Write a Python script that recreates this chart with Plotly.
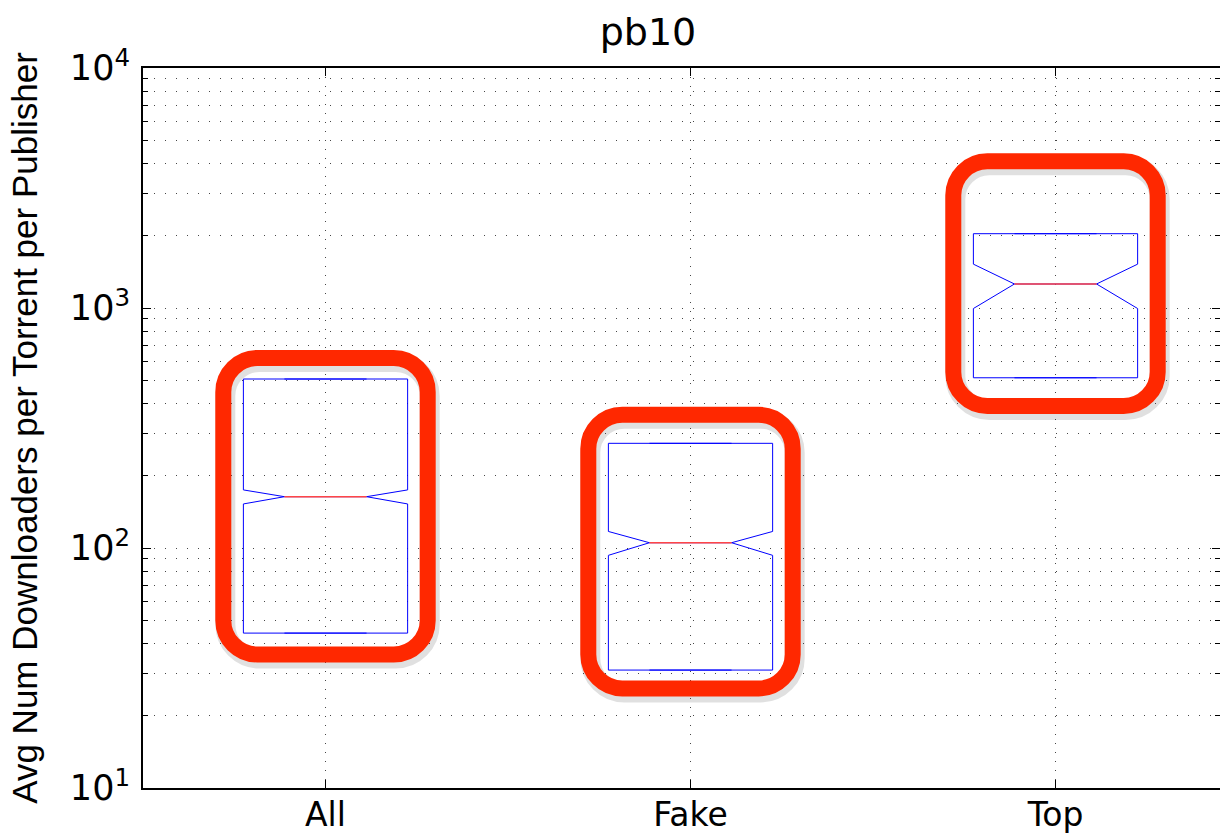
import math
import plotly.graph_objects as go

# ---------------- data ----------------
categories = ["All", "Fake", "Top"]
positions = [1, 2, 3]
q1 = [44.2, 31.0, 512]
median = [163.6, 105.2, 1259]
q3 = [506, 273, 2040]
notchspan = [11, 12, 264]
lower_whisker = [44.2, 31.0, 512]
upper_whisker = [506, 273, 2040]
# highlight (hand-drawn red frames) extents, data units
hl_low = [36, 26, 391]
hl_high = [619, 359, 4085]

ytickvals = [10, 100, 1000, 10000]
yticktext = ["10<sup>1</sup>", "10<sup>2</sup>", "10<sup>3</sup>", "10<sup>4</sup>"]
yminor = [m * 10 ** e for e in range(1, 4) for m in range(2, 10)]

# ---------------- geometry / style ----------------
W, H = 1220, 836
ML, MR, MT, MB = 143, 0, 68, 48
PW, PH = W - ML - MR, H - MT - MB
XUNIT = 365.0
XR = [0.5, 0.5 + PW / XUNIT]
YR = [1, 4]
BOXW = 0.45
NOTCHW = 0.25
HL_HALF = 0.28

fig = go.Figure()

fig.add_trace(go.Box(
    x=positions, q1=q1, median=median, q3=q3,
    lowerfence=lower_whisker, upperfence=upper_whisker,
    notchspan=notchspan, notched=True, notchwidth=NOTCHW,
    width=BOXW, whiskerwidth=0.5, boxpoints=False,
    line=dict(color="rgb(0,0,255)", width=1),
    fillcolor="rgba(255,255,255,0)",
    showlegend=False, hoverinfo="skip",
))

# red median lines
mx, my = [], []
half_in = BOXW / 2 * (1 - 2 * NOTCHW)
for p, m in zip(positions, median):
    mx += [p - half_in, p + half_in, None]
    my += [m, m, None]
fig.add_trace(go.Scatter(x=mx, y=my, mode="lines",
                         line=dict(color="rgb(255,70,70)", width=1.6),
                         showlegend=False, hoverinfo="skip"))


def to_paper(x, y):
    return (x - XR[0]) / (XR[1] - XR[0]), (math.log10(y) - YR[0]) / (YR[1] - YR[0])


def rounded_path(x0, y0, x1, y1, rpx, dx=0.0, dy=0.0):
    rx, ry = rpx / PW, rpx / PH
    ox, oy = dx / PW, dy / PH
    x0 += ox; x1 += ox; y0 += oy; y1 += oy
    k = 0.45
    p = []
    p.append(f"M {x0 + rx},{y1}")
    p.append(f"L {x1 - rx},{y1}")
    p.append(f"C {x1 - rx * k},{y1} {x1},{y1 - ry * k} {x1},{y1 - ry}")
    p.append(f"L {x1},{y0 + ry}")
    p.append(f"C {x1},{y0 + ry * k} {x1 - rx * k},{y0} {x1 - rx},{y0}")
    p.append(f"L {x0 + rx},{y0}")
    p.append(f"C {x0 + rx * k},{y0} {x0},{y0 + ry * k} {x0},{y0 + ry}")
    p.append(f"L {x0},{y1 - ry}")
    p.append(f"C {x0},{y1 - ry * k} {x0 + rx * k},{y1} {x0 + rx},{y1}")
    p.append("Z")
    return " ".join(p)


shapes = []
for p, lo, hi in zip(positions, hl_low, hl_high):
    x0, y0 = to_paper(p - HL_HALF, lo)
    x1, y1 = to_paper(p + HL_HALF, hi)
    shapes.append(dict(type="path", xref="paper", yref="paper",
                       path=rounded_path(x0, y0, x1, y1, 34, dx=2, dy=-4),
                       line=dict(color="rgba(0,0,0,0.12)", width=20), layer="below"))
    shapes.append(dict(type="path", xref="paper", yref="paper",
                       path=rounded_path(x0, y0, x1, y1, 34),
                       line=dict(color="rgb(255,40,0)", width=16), layer="above"))

fig.update_layout(
    width=W, height=H,
    margin=dict(l=ML, r=MR, t=MT, b=MB, autoexpand=False),
    paper_bgcolor="white", plot_bgcolor="white",
    shapes=shapes,
    title=dict(text="pb10", x=648 / W, xref="container", xanchor="center",
               y=1 - 32 / H, yref="container", yanchor="middle",
               font=dict(family="DejaVu Sans", size=38, color="black")),
    font=dict(family="Liberation Sans", color="black"),
)

fig.update_xaxes(
    range=XR, tickmode="array", tickvals=positions, ticktext=categories,
    tickfont=dict(size=33, family="DejaVu Sans"), ticklabelstandoff=-4,
    showline=True, linecolor="black", linewidth=2, mirror="ticks",
    ticks="inside", ticklen=8, tickcolor="black", tickwidth=1,
    showgrid=True, gridcolor="rgb(70,70,70)", gridwidth=1, griddash="1px,8px",
    zeroline=False, fixedrange=True,
)
fig.update_yaxes(
    type="log", range=YR, tickmode="array", tickvals=ytickvals, ticktext=yticktext,
    tickfont=dict(size=35, family="DejaVu Sans"), ticklabelstandoff=4,
    showline=True, linecolor="black", linewidth=2, mirror="ticks",
    ticks="inside", ticklen=8, tickcolor="black", tickwidth=1,
    showgrid=True, gridcolor="rgb(70,70,70)", gridwidth=1, griddash="1px,10px",
    minor=dict(tickmode="array", tickvals=yminor, ticks="inside", ticklen=5,
               tickcolor="black", showgrid=True, gridcolor="rgb(70,70,70)",
               gridwidth=1, griddash="1px,10px"),
    title=dict(text="Avg Num Downloaders per Torrent per Publisher",
               font=dict(size=35, family="Liberation Sans"), standoff=22),
    zeroline=False, fixedrange=True,
)

fig.write_html("out.html",
               config={"displayModeBar": False},
               post_script="document.body.style.margin='0px';"
                           "document.body.style.overflow='hidden';")
